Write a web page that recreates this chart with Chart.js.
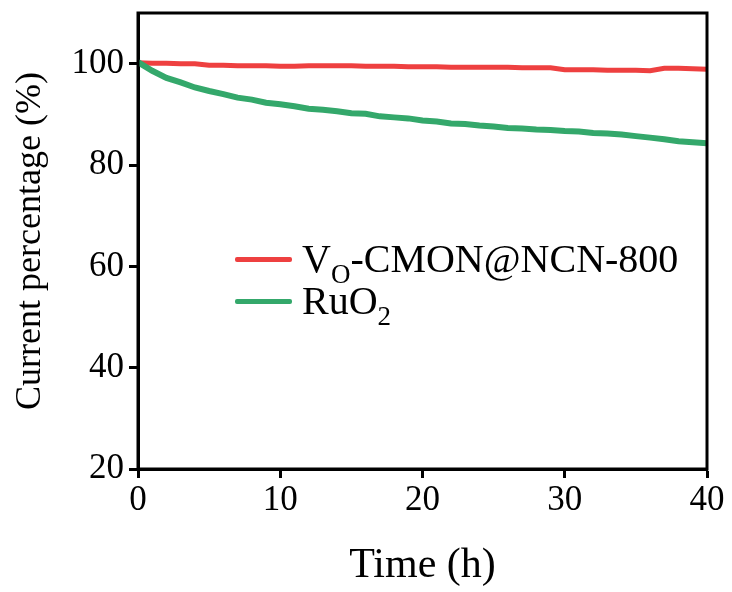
<!DOCTYPE html>
<html>
<head>
<meta charset="utf-8">
<script src="https://cdn.jsdelivr.net/npm/chart.js@4.4.1/dist/chart.umd.min.js"></script>
<style>
  body { margin: 0; background: #fff; }
  #wrap { position: relative; width: 732px; height: 592px; }
  #legend {
    position: absolute; left: 235px; top: 238px;
    font-family: "Liberation Serif", "Times New Roman", serif;
    font-size: 40px; color: #000; line-height: 42px;
  }
  #legend .row { display: flex; align-items: center; white-space: nowrap; height: 42px; }
  #legend .swatch { display: inline-block; width: 57px; height: 5px; border-radius: 2px; margin-right: 10px; }
  #legend sub { font-size: 27px; vertical-align: -11px; line-height: 0; }
</style>
</head>
<body>
<div id="wrap">
  <canvas id="chart" width="732" height="592"></canvas>
  <div id="legend">
    <div class="row"><span class="swatch" style="background:#ee4040"></span><span>V<sub>O</sub>-CMON@NCN-800</span></div>
    <div class="row"><span class="swatch" style="background:#34a86b"></span><span>RuO<sub>2</sub></span></div>
  </div>
</div>
<script>
// Dados (tempo em horas, corrente em %)
const timeH = [0, 1, 2, 3, 4, 5, 6, 7, 8, 9, 10, 11, 12, 13, 14, 15, 16, 17, 18, 19, 20,
  21, 22, 23, 24, 25, 26, 27, 28, 29, 30, 31, 32, 33, 34, 35, 36, 37, 38, 39, 40];

const vcmonValues = [100.2, 100.1, 100.1, 100.0, 100.0, 99.7, 99.7, 99.6, 99.6, 99.6, 99.5,
  99.5, 99.6, 99.6, 99.6, 99.6, 99.5, 99.5, 99.5, 99.4, 99.4,
  99.4, 99.3, 99.3, 99.3, 99.3, 99.3, 99.2, 99.2, 99.2, 98.8,
  98.8, 98.8, 98.7, 98.7, 98.7, 98.6, 99.1, 99.1, 99.0, 98.9];

const ruo2Values = [100.3, 98.6, 97.2, 96.3, 95.3, 94.6, 94.0, 93.3, 92.9, 92.3, 92.0,
  91.6, 91.1, 90.9, 90.6, 90.2, 90.1, 89.6, 89.4, 89.2, 88.8,
  88.6, 88.2, 88.1, 87.8, 87.6, 87.3, 87.2, 87.0, 86.9, 86.7,
  86.6, 86.3, 86.2, 86.0, 85.7, 85.4, 85.1, 84.7, 84.5, 84.3];

const xTicks = [0, 10, 20, 30, 40];
const yTicks = [20, 40, 60, 80, 100];

const serif = "'Liberation Serif', 'Times New Roman', serif";

function toPoints(values) {
  return timeH.map((t, i) => ({ x: t, y: values[i] }));
}

function noPadding(s) {
  s.paddingTop = 0;
  s.paddingBottom = 0;
  s.paddingLeft = 0;
  s.paddingRight = 0;
}

// Moldura completa em volta da área do gráfico
const framePlugin = {
  id: 'frame',
  afterDraw(chart) {
    const { ctx, chartArea: a } = chart;
    ctx.save();
    ctx.strokeStyle = '#000';
    ctx.lineWidth = 3;
    ctx.strokeRect(a.left, a.top, a.right - a.left, a.bottom - a.top);
    ctx.restore();
  }
};

new Chart(document.getElementById('chart').getContext('2d'), {
  type: 'line',
  data: {
    datasets: [
      {
        label: 'VO-CMON@NCN-800',
        data: toPoints(vcmonValues),
        borderColor: '#ee4040',
        borderWidth: 5,
        pointRadius: 0,
        tension: 0,
        order: 1
      },
      {
        label: 'RuO2',
        data: toPoints(ruo2Values),
        borderColor: '#34a86b',
        borderWidth: 6,
        pointRadius: 0,
        tension: 0,
        order: 0
      }
    ]
  },
  options: {
    responsive: false,
    animation: false,
    layout: { padding: { top: 13, right: 25, left: 0, bottom: 0 } },
    plugins: { legend: { display: false }, tooltip: { enabled: false } },
    scales: {
      x: {
        type: 'linear',
        min: 0,
        max: 40,
        afterBuildTicks: s => { s.ticks = xTicks.map(v => ({ value: v })); },
        afterFit: s => { s.height = 123; noPadding(s); },
        ticks: { color: '#000', font: { family: serif, size: 35 }, padding: 2, maxRotation: 0 },
        grid: { drawOnChartArea: false, tickLength: 9, tickWidth: 3, tickColor: '#000' },
        border: { color: '#000', width: 3 },
        title: { display: true, text: 'Time (h)', color: '#000', font: { family: serif, size: 42 }, padding: { top: 0, bottom: 1 } }
      },
      y: {
        min: 20,
        max: 110,
        afterBuildTicks: s => { s.ticks = yTicks.map(v => ({ value: v })); },
        afterFit: s => { s.width = 138; noPadding(s); },
        ticks: { color: '#000', font: { family: serif, size: 35 }, padding: 5 },
        grid: { drawOnChartArea: false, tickLength: 9, tickWidth: 3, tickColor: '#000' },
        border: { color: '#000', width: 3 },
        title: { display: true, text: 'Current percentage (%)', color: '#000', font: { family: serif, size: 36 }, padding: { top: 9, bottom: 0 } }
      }
    }
  },
  plugins: [framePlugin]
});
</script>
</body>
</html>
